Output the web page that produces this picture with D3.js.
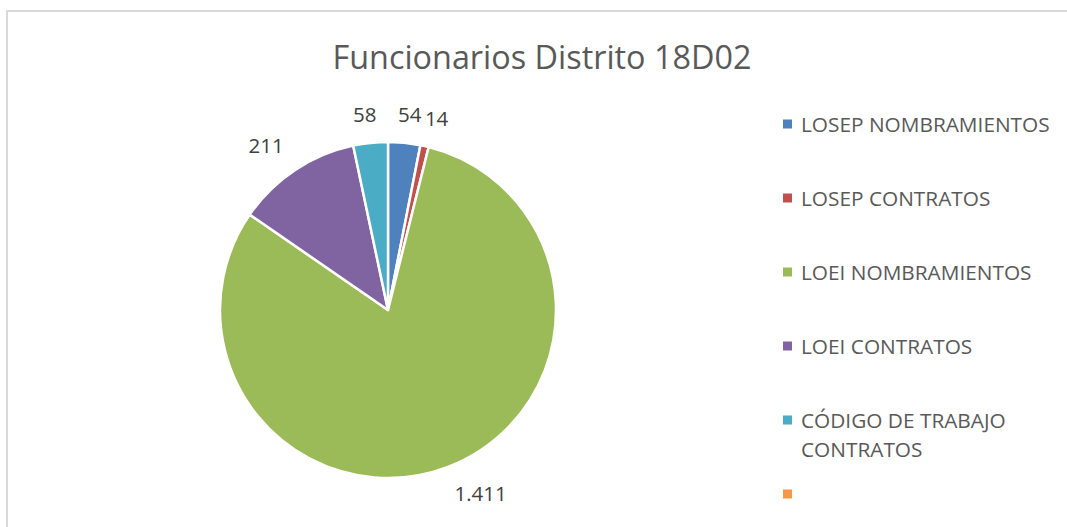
<!DOCTYPE html>
<html lang="es">
<head>
<meta charset="utf-8">
<title>Funcionarios Distrito 18D02</title>
<script src="https://cdn.jsdelivr.net/npm/d3@7/dist/d3.min.js"></script>
<style>
    body { margin: 0; background: #fff; font-family: "Open Sans", sans-serif; }
    svg { display: block; }
    .title { fill: #595959; }
    .legend text { fill: #595959; font-size: 20.8px; }
    .label { fill: #404040; font-size: 20.5px; }
</style>
</head>
<body>
<svg id="chart" width="1067" height="527"></svg>
<script>
// data
const title = "Funcionarios Distrito 18D02";
const categories = ["LOSEP NOMBRAMIENTOS", "LOSEP CONTRATOS", "LOEI NOMBRAMIENTOS",
                    "LOEI CONTRATOS", "CÓDIGO DE TRABAJO CONTRATOS", ""];
const values = [54, 14, 1411, 211, 58, 0];
const colors = ["#4f81bd", "#c0504d", "#9bbb59", "#8064a2", "#4bacc6", "#f79646"];

const W = 1067, H = 527;
const cx = 388, cy = 310, radius = 168;

const svg = d3.select("#chart");

// chart area border (cropped on the right and bottom)
svg.append("rect")
    .attr("x", 7).attr("y", 11)
    .attr("width", W + 20).attr("height", H + 20)
    .attr("fill", "none")
    .attr("stroke", "#d9d9d9")
    .attr("stroke-width", 2);

// title
svg.append("text")
    .attr("class", "title")
    .attr("x", 542).attr("y", 69)
    .attr("text-anchor", "middle")
    .attr("font-size", 33)
    .attr("textLength", 419)
    .attr("lengthAdjust", "spacingAndGlyphs")
    .text(title);

const es = d3.formatLocale({ decimal: ",", thousands: ".", grouping: [3], currency: ["$", ""] });
const fmt = es.format(",d");

const pie = d3.pie().sort(null).value(d => d.value);
const arc = d3.arc().innerRadius(0).outerRadius(radius);
const color = d3.scaleOrdinal().domain(categories).range(colors);

const rows = categories.map((c, i) => ({ name: c, value: values[i] }));
const arcs = pie(rows).filter(d => d.data.value > 0);

const g = svg.append("g").attr("transform", `translate(${cx},${cy})`);

g.selectAll("path")
    .data(arcs)
    .enter().append("path")
    .attr("d", arc)
    .attr("fill", d => color(d.data.name))
    .attr("stroke", "#fff")
    .attr("stroke-width", 2.5)
    .attr("stroke-linejoin", "round");

// data labels, outside end: the box corner nearest the pie sits on the mid-angle ray
const labelR = 188, halfH = 8;
g.selectAll(".label")
    .data(arcs)
    .enter().append("text")
    .attr("class", "label")
    .attr("text-anchor", "middle")
    .attr("dy", "0.35em")
    .text(d => fmt(d.data.value))
    .each(function (d) {
        const a = (d.startAngle + d.endAngle) / 2;
        const bb = this.getBBox();
        const s = Math.sin(a), c = -Math.cos(a);
        const fx = Math.sign(s) * Math.min(1, Math.abs(s) * 3);
        const fy = Math.sign(c) * Math.min(1, Math.abs(c) * 3);
        d3.select(this)
            .attr("x", s * labelR + fx * bb.width / 2)
            .attr("y", c * labelR + fy * halfH);
    });

// legend
const legend = svg.append("g").attr("class", "legend")
    .attr("transform", "translate(783,124)");
const step = 74, maxW = 260, lineH = 29;

const item = legend.selectAll("g")
    .data(categories)
    .enter().append("g")
    .attr("transform", (d, i) => `translate(0,${i * step})`);

item.append("rect")
    .attr("x", 0).attr("y", -4.5)
    .attr("width", 9).attr("height", 9)
    .attr("fill", d => color(d));

item.append("text")
    .attr("x", 18)
    .attr("y", 7.5)
    .each(function (d) {
        const t = d3.select(this);
        const words = d.split(" ").filter(w => w);
        let line = [];
        let ts = t.append("tspan").attr("x", 18).attr("dy", 0);
        words.forEach(w => {
            line.push(w);
            ts.text(line.join(" "));
            if (ts.node().getComputedTextLength() > maxW && line.length > 1) {
                line.pop();
                ts.text(line.join(" "));
                line = [w];
                ts = t.append("tspan").attr("x", 18).attr("dy", lineH).text(w);
            }
        });
    });
</script>
</body>
</html>
